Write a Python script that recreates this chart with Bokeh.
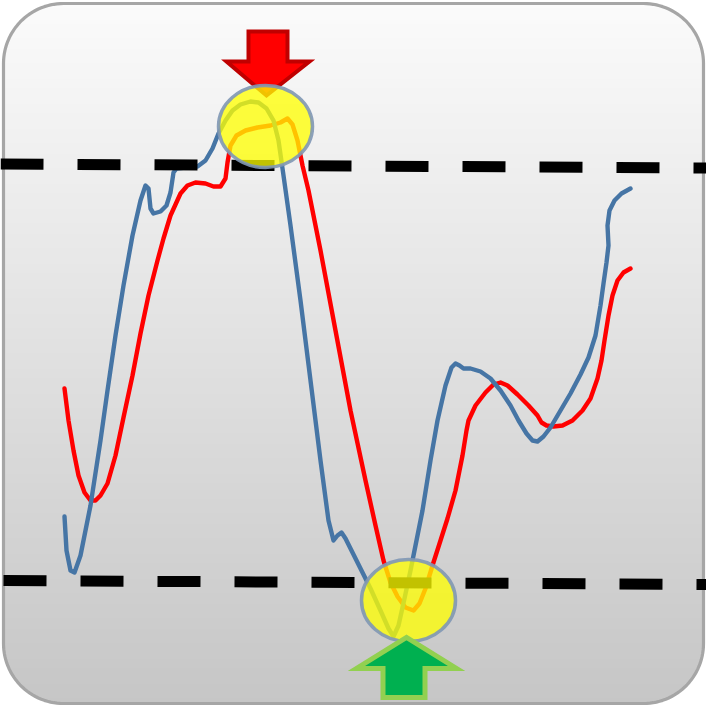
import numpy as np
from bokeh.plotting import figure
from bokeh.models import Range1d
from bokeh.embed import file_html
from bokeh.resources import INLINE

# ---------------- data (x = time, y = oscillator reading, axis runs top-down) -------------
time_blue = [64, 66, 70, 74, 80, 90, 100, 107, 115, 123, 132, 140, 145, 148, 150, 153, 160,
             166, 170, 173, 176, 185, 197, 205, 212, 218, 225, 232, 240, 250, 258, 266, 273,
             278, 283, 290, 300, 310, 320, 328, 333, 337, 341, 345, 352, 360, 370, 380, 388,
             393, 398, 404, 410, 416, 422, 430, 437, 445, 451, 455, 459, 463, 470, 480, 490,
             500, 510, 518, 526, 532, 537, 543, 550, 560, 570, 580, 588, 595, 600, 603, 606,
             608, 607, 609, 614, 621, 630]
osc_blue = [516, 550, 570, 572, 555, 505, 440, 390, 335, 285, 235, 200, 185, 188, 208, 213, 211,
            205, 192, 172, 168, 167, 166, 160, 148, 133, 120, 110, 104, 101, 102, 108, 120,
            140, 175, 225, 300, 380, 460, 520, 540, 535, 532, 538, 552, 568, 588, 610, 628,
            636, 625, 598, 570, 540, 510, 460, 420, 385, 367, 363, 365, 368, 368, 371, 378,
            390, 405, 420, 433, 440, 441, 436, 427, 410, 393, 374, 357, 335, 305, 283, 262,
            245, 225, 210, 200, 193, 188]

time_red = [64, 68, 73, 78, 84, 90, 95, 100, 107, 115, 123, 132, 140, 148, 157, 163, 170, 180,
            187, 195, 205, 213, 220, 225, 227, 230, 236, 245, 257, 270, 280, 287, 292, 297,
            302, 308, 320, 335, 350, 365, 375, 383, 390, 397, 405, 413, 419, 425, 432, 440,
            447, 455, 462, 466, 468, 475, 485, 493, 500, 507, 517, 528, 537, 541, 546, 553,
            562, 572, 582, 590, 597, 601, 604, 608, 612, 617, 623, 630]
osc_red = [388, 420, 450, 475, 492, 500, 500, 495, 483, 455, 417, 375, 333, 295, 260, 238, 215,
           193, 185, 182, 183, 186, 186, 178, 162, 145, 135, 130, 127, 125, 122, 118, 124, 140,
           165, 190, 250, 330, 410, 480, 525, 560, 582, 596, 607, 610, 603, 588, 565, 540,
           518, 490, 455, 430, 420, 405, 392, 384, 382, 385, 394, 405, 415, 422, 425, 426,
           425, 420, 410, 398, 378, 360, 340, 315, 295, 280, 272, 268]

upper_x = [0, 706]
upper_y = [163.5, 167.5]
lower_x = [3, 706]
lower_y = [580, 584]

peak_x, peak_y = [265], [126]
trough_x, trough_y = [408], [600]

# ---------------- figure -------------
W = 706
s = W / 706.0

p = figure(width=W, height=W, x_range=Range1d(0, 706), y_range=Range1d(706, 0),
           output_backend="svg", toolbar_location=None, min_border=0,
           x_axis_location=None, y_axis_location=None,
           outline_line_color=None, background_fill_color="white",
           border_fill_color="white")
p.xgrid.grid_line_color = None
p.ygrid.grid_line_color = None

# gradient background of the rounded panel
edges = np.linspace(3, 703, 141)
tops = edges[:-1]
bots = edges[1:] + 1.0
mids = (edges[:-1] + edges[1:]) / 2
cols = []
for m in mids:
    v = int(round(251 - (m - 3) / 700.0 * 53))
    cols.append("#%02x%02x%02x" % (v, v, v))
p.quad(left=3, right=703, top=tops, bottom=bots, fill_color=cols, line_color=None)

# white corners outside the rounded rectangle
r = 60
L, T, R, B = 3, 3, 703, 703


def arc(cx, cy, a0, a1, n=30):
    t = np.radians(np.linspace(a0, a1, n))
    return list(cx + r * np.cos(t)), list(cy + r * np.sin(t))


cxs, cys = [], []
ax, ay = arc(L + r, T + r, 180, 270)
cxs.append([-2] + ax + [L + r, -2]); cys.append([T + r] + ay + [-2, -2])
ax, ay = arc(R - r, T + r, 270, 360)
cxs.append(ax + [708, 708]); cys.append(ay + [T + r, -2])
ax, ay = arc(R - r, B - r, 0, 90)
cxs.append(ax + [R - r, 708, 708]); cys.append(ay + [708, 708, B - r])
ax, ay = arc(L + r, B - r, 90, 180)
cxs.append(ax + [-2, -2, L + r]); cys.append(ay + [B - r, 708, 708])
p.patches(cxs, cys, fill_color="white", line_color=None)

# border
bx, by = [], []
for (cx, cy, a0, a1) in [(L + r, T + r, 180, 270), (R - r, T + r, 270, 360),
                         (R - r, B - r, 360, 450), (L + r, B - r, 450, 540)]:
    ax, ay = arc(cx, cy, a0, a1)
    bx += ax; by += ay
bx.append(bx[0]); by.append(by[0])
p.line(bx, by, line_color="#a6a6a6", line_width=3.2 * s)

# oscillator lines
p.line(time_red, osc_red, line_color="#ff0000", line_width=4.4 * s,
       line_join="round", line_cap="round")
p.line(time_blue, osc_blue, line_color="#4675a5", line_width=4.4 * s,
       line_join="round", line_cap="round")

# threshold dashed lines
dash = "%d %d" % (round(43 * s), round(34 * s))
p.line(upper_x, upper_y, line_color="black", line_width=11 * s, line_dash=dash, line_cap="butt")
p.line(lower_x, lower_y, line_color="black", line_width=11 * s, line_dash=dash, line_cap="butt")

# red down arrow (sell signal)
p.patch([248, 287, 287, 309, 266, 226, 248, 248], [31, 31, 61, 61, 95, 61, 61, 31],
        fill_color="#ff0000", line_color="#c00000", line_width=4 * s, line_join="miter")

# highlight circles
p.ellipse(x=peak_x, y=peak_y, width=94, height=82, fill_color="#ffff00", fill_alpha=0.76,
          line_color="#7f97b5", line_alpha=0.9, line_width=3.5 * s)
p.ellipse(x=trough_x, y=trough_y, width=94, height=82, fill_color="#ffff00", fill_alpha=0.76,
          line_color="#7f97b5", line_alpha=0.9, line_width=3.5 * s)

# green up arrow (buy signal)
p.patch([382.5, 424.5, 424.5, 456, 406, 356, 382.5, 382.5],
        [697, 697, 668, 668, 637, 668, 668, 697],
        fill_color="#00b050", line_color="#92d050", line_width=5 * s, line_join="miter")

open("out.html", "w").write(file_html(p, INLINE))
